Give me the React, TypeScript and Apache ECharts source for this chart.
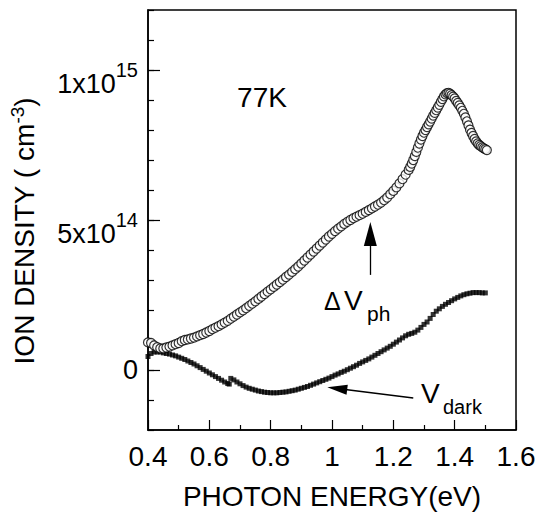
import React, { useEffect, useRef } from "react";
import * as echarts from "echarts";

const FONT = "Liberation Sans, Arial, Helvetica, sans-serif";

// x tick labels (eV)
const xTickValues = [0.4, 0.6, 0.8, 1.0, 1.2, 1.4, 1.6];
// labelled y values (units of 1e14 cm^-3)
const yLabelValues = [0, 5, 10];
const yLabelText: Record<number, [string, string]> = {
  0: ["0", ""],
  5: ["5x10", "14"],
  10: ["1x10", "15"],
};

// Delta V_ph : [photon energy (eV), ion density (1e14 cm^-3)]
const deltaVph: [number, number][] = [
  [0.40, 0.92], [0.41, 0.90], [0.42, 0.82], [0.43, 0.76], [0.44, 0.72], [0.45, 0.72], [0.46, 0.75], [0.47, 0.78],
  [0.48, 0.82], [0.49, 0.86], [0.50, 0.90], [0.51, 0.96], [0.52, 1.00], [0.53, 1.02], [0.54, 1.05], [0.55, 1.08],
  [0.56, 1.12], [0.57, 1.16], [0.58, 1.20], [0.59, 1.25], [0.60, 1.30], [0.61, 1.36], [0.62, 1.41], [0.63, 1.46],
  [0.64, 1.52], [0.65, 1.58], [0.66, 1.64], [0.67, 1.71], [0.68, 1.78], [0.69, 1.85], [0.70, 1.92], [0.71, 1.99],
  [0.72, 2.06], [0.73, 2.14], [0.74, 2.21], [0.75, 2.29], [0.76, 2.37], [0.77, 2.45], [0.78, 2.53], [0.79, 2.61],
  [0.80, 2.69], [0.81, 2.77], [0.82, 2.85], [0.83, 2.93], [0.84, 3.01], [0.85, 3.10], [0.86, 3.18], [0.87, 3.27],
  [0.88, 3.36], [0.89, 3.45], [0.90, 3.55], [0.91, 3.65], [0.92, 3.75], [0.93, 3.85], [0.94, 3.95], [0.95, 4.05],
  [0.96, 4.15], [0.97, 4.25], [0.98, 4.35], [0.99, 4.45], [1.00, 4.54], [1.01, 4.63], [1.02, 4.71], [1.03, 4.79],
  [1.04, 4.87], [1.05, 4.94], [1.06, 5.00], [1.07, 5.06], [1.08, 5.11], [1.09, 5.16], [1.10, 5.21], [1.11, 5.27],
  [1.12, 5.33], [1.13, 5.39], [1.14, 5.45], [1.15, 5.51], [1.16, 5.58], [1.17, 5.66], [1.18, 5.75], [1.19, 5.86],
  [1.20, 5.97], [1.21, 6.09], [1.22, 6.22], [1.23, 6.36], [1.24, 6.51], [1.25, 6.67], [1.255, 6.77], [1.26, 6.88],
  [1.265, 7.00], [1.27, 7.13], [1.275, 7.27], [1.28, 7.41], [1.285, 7.55], [1.29, 7.68], [1.295, 7.80], [1.30, 7.91],
  [1.305, 8.00], [1.31, 8.10], [1.315, 8.19], [1.32, 8.28], [1.325, 8.38], [1.33, 8.48], [1.335, 8.57], [1.34, 8.66],
  [1.345, 8.75], [1.35, 8.84], [1.355, 8.94], [1.36, 9.03], [1.365, 9.12], [1.37, 9.19], [1.375, 9.23], [1.38, 9.24],
  [1.385, 9.21], [1.39, 9.16], [1.395, 9.11], [1.40, 9.05], [1.405, 8.97], [1.41, 8.90], [1.415, 8.82], [1.42, 8.74],
  [1.425, 8.64], [1.43, 8.54], [1.435, 8.42], [1.44, 8.29], [1.445, 8.15], [1.45, 8.01], [1.455, 7.90], [1.46, 7.80],
  [1.465, 7.70], [1.47, 7.62], [1.475, 7.55], [1.48, 7.50], [1.485, 7.46], [1.49, 7.42], [1.495, 7.39], [1.50, 7.36],
  [1.505, 7.33],
];

// V_dark : [photon energy (eV), ion density (1e14 cm^-3)]
const vDark: [number, number][] = [
  [0.40, 0.45], [0.41, 0.55], [0.42, 0.60], [0.43, 0.60], [0.44, 0.60], [0.45, 0.57], [0.46, 0.55], [0.47, 0.53],
  [0.48, 0.50], [0.49, 0.47], [0.50, 0.43], [0.51, 0.39], [0.52, 0.35], [0.53, 0.30], [0.54, 0.25], [0.55, 0.20],
  [0.56, 0.14], [0.57, 0.08], [0.58, 0.02], [0.59, -0.04], [0.60, -0.10], [0.61, -0.16], [0.62, -0.22], [0.63, -0.28],
  [0.64, -0.34], [0.65, -0.40], [0.66, -0.45], [0.665, -0.47], [0.67, -0.28], [0.68, -0.33], [0.69, -0.40], [0.70, -0.46],
  [0.71, -0.52], [0.72, -0.57], [0.73, -0.61], [0.74, -0.64], [0.75, -0.67], [0.76, -0.70], [0.77, -0.72], [0.78, -0.74],
  [0.79, -0.75], [0.80, -0.76], [0.81, -0.76], [0.82, -0.76], [0.83, -0.75], [0.84, -0.74], [0.85, -0.73], [0.86, -0.71],
  [0.87, -0.69], [0.88, -0.67], [0.89, -0.64], [0.90, -0.61], [0.91, -0.58], [0.92, -0.55], [0.93, -0.51], [0.94, -0.47],
  [0.95, -0.43], [0.96, -0.39], [0.97, -0.35], [0.98, -0.31], [0.99, -0.27], [1.00, -0.22], [1.01, -0.17], [1.02, -0.13],
  [1.03, -0.08], [1.04, -0.04], [1.05, 0.01], [1.06, 0.06], [1.07, 0.11], [1.08, 0.16], [1.09, 0.22], [1.10, 0.27],
  [1.11, 0.32], [1.12, 0.37], [1.13, 0.43], [1.14, 0.49], [1.15, 0.55], [1.16, 0.61], [1.17, 0.67], [1.18, 0.73],
  [1.19, 0.79], [1.20, 0.86], [1.21, 0.93], [1.22, 1.00], [1.23, 1.07], [1.24, 1.14], [1.25, 1.19], [1.26, 1.22],
  [1.27, 1.26], [1.28, 1.33], [1.29, 1.42], [1.30, 1.52], [1.31, 1.60], [1.32, 1.72], [1.33, 1.85], [1.34, 1.96],
  [1.35, 2.04], [1.36, 2.12], [1.37, 2.19], [1.38, 2.25], [1.39, 2.31], [1.40, 2.37], [1.41, 2.42], [1.42, 2.47],
  [1.43, 2.51], [1.44, 2.54], [1.45, 2.56], [1.46, 2.58], [1.47, 2.58], [1.48, 2.58], [1.49, 2.57], [1.50, 2.57],
];

export default function App() {
  const ref = useRef<HTMLDivElement>(null);

  useEffect(() => {
    if (!ref.current) return;
    const chart = echarts.init(ref.current, undefined, { renderer: "svg" });
    const black = "#000";

    const option: any = {
      animation: false,
      backgroundColor: "#fff",
      textStyle: { fontFamily: FONT, color: black },
      grid: {
        left: 147,
        right: 24,
        top: 10,
        bottom: 89,
        show: true,
        borderColor: black,
        borderWidth: 1.5,
        backgroundColor: "transparent",
      },
      xAxis: {
        type: "value",
        min: 0.4,
        max: 1.6,
        interval: 0.2,
        name: "PHOTON ENERGY(eV)",
        nameLocation: "middle",
        nameGap: 52,
        nameTextStyle: { fontSize: 28, color: black, lineHeight: 28, fontFamily: FONT },
        axisLine: { show: true, onZero: false, lineStyle: { color: black, width: 1.5 } },
        axisTick: { inside: true, length: 10, lineStyle: { color: black, width: 1.2 } },
        minorTick: { show: true, splitNumber: 2, length: 5, lineStyle: { color: black, width: 1.2 } },
        axisLabel: {
          fontSize: 28,
          color: black,
          margin: 12,
          lineHeight: 28,
          fontFamily: FONT,
          customValues: xTickValues,
          formatter: (v: number) => String(+v.toFixed(1)),
        },
        splitLine: { show: false },
        minorSplitLine: { show: false },
      },
      yAxis: [
        {
          type: "value",
          min: -2,
          max: 12,
          interval: 1,
          name: "{a|ION DENSITY ( cm}{s|-3}{a|)}",
          nameLocation: "middle",
          nameGap: 110,
          nameTextStyle: {
            color: black,
            fontSize: 28,
            fontFamily: FONT,
            padding: [0, 22, 0, 0],
            rich: {
              a: { fontSize: 28, lineHeight: 30, verticalAlign: "bottom", color: black, fontFamily: FONT },
              s: { fontSize: 19, lineHeight: 19, verticalAlign: "top", color: black, fontFamily: FONT },
            },
          },
          axisLine: { show: true, onZero: false, lineStyle: { color: black, width: 1.5 } },
          axisTick: { inside: true, length: 6, lineStyle: { color: black, width: 1.2 } },
          axisLabel: { show: false },
          splitLine: { show: false },
        },
        {
          type: "value",
          min: -2,
          max: 12,
          position: "left",
          axisLine: { show: false, onZero: false },
          axisTick: {
            show: true,
            inside: true,
            length: 12,
            customValues: yLabelValues,
            lineStyle: { color: black, width: 1.2 },
          },
          axisLabel: {
            show: true,
            margin: 10,
            customValues: yLabelValues,
            formatter: (v: number) => {
              const t = yLabelText[Math.round(v)];
              if (!t) return "";
              return t[1] ? `{b|${t[0]}}{s|${t[1]}}` : `{z|${t[0]}}`;
            },
            rich: {
              b: { fontSize: 27, lineHeight: 28, verticalAlign: "bottom", color: black, fontFamily: FONT },
              s: { fontSize: 20, lineHeight: 54, verticalAlign: "middle", color: black, fontFamily: FONT },
              z: { fontSize: 27, lineHeight: 28, color: black, fontFamily: FONT },
            },
          },
          splitLine: { show: false },
        },
      ],
      series: [
        {
          name: "Vdark",
          type: "scatter",
          data: vDark,
          symbol: "rect",
          symbolSize: 5,
          itemStyle: { color: black },
          silent: true,
          markLine: {
            silent: true,
            animation: false,
            label: { show: false },
            lineStyle: { color: black, width: 1.3, type: "solid" },
            data: [
              [
                { coord: [1.265, -0.933], symbol: "none" },
                { coord: [1.017, -0.617], symbol: "triangle", symbolSize: [10, 20] },
              ],
              [
                { coord: [1.125, 3.17], symbol: "none" },
                { coord: [1.125, 4.53], symbol: "triangle", symbolSize: [13, 24] },
              ],
            ],
          },
        },
        {
          name: "dVph",
          type: "scatter",
          data: deltaVph,
          symbol: "circle",
          symbolSize: 9,
          itemStyle: { color: "#fff", borderColor: black, borderWidth: 1.2 },
          silent: true,
        },
      ],
      graphic: [
        { type: "text", x: 262, y: 97, style: { text: "77K", fontSize: 28, fontFamily: FONT, fill: black, align: "center", verticalAlign: "middle" } },
        { type: "text", x: 324, y: 301, style: { text: "\u0394", fontSize: 25, fontFamily: FONT, fill: black, align: "left", verticalAlign: "middle" } },
        { type: "text", x: 344, y: 300, style: { text: "V", fontSize: 28, fontFamily: FONT, fill: black, align: "left", verticalAlign: "middle" } },
        { type: "text", x: 367, y: 313, style: { text: "ph", fontSize: 21, fontFamily: FONT, fill: black, align: "left", verticalAlign: "middle" } },
        { type: "text", x: 421, y: 393, style: { text: "V", fontSize: 28, fontFamily: FONT, fill: black, align: "left", verticalAlign: "middle" } },
        { type: "text", x: 443, y: 407, style: { text: "dark", fontSize: 20, fontFamily: FONT, fill: black, align: "left", verticalAlign: "middle" } },
      ],
    };

    chart.setOption(option);
    return () => chart.dispose();
  }, []);

  return (
    <div
      ref={ref}
      style={{ position: "fixed", left: 0, top: 0, width: 540, height: 519, background: "#fff" }}
    />
  );
}
